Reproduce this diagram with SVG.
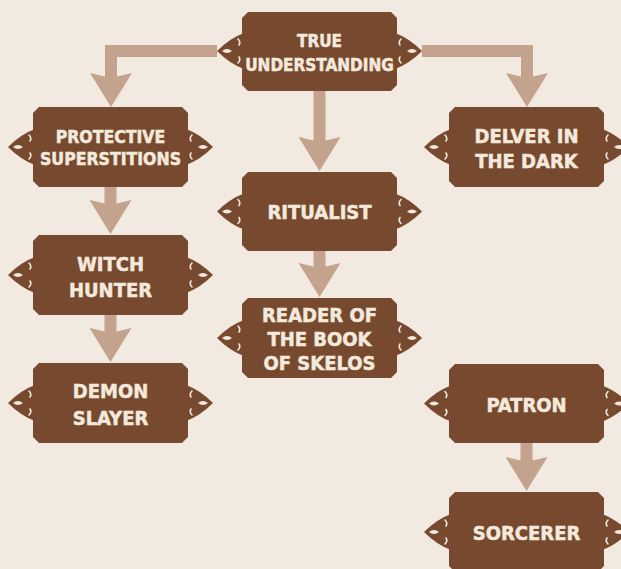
<svg xmlns="http://www.w3.org/2000/svg" xmlns:xlink="http://www.w3.org/1999/xlink" width="621" height="569" viewBox="0 0 621 569">
<defs>
<style>
.box{fill:#774a30}
.t{fill:#f3e9dc;stroke:#f3e9dc;stroke-width:0.5;font-family:"DejaVu Sans Condensed","DejaVu Sans",sans-serif;font-stretch:condensed;font-weight:bold;font-size:20px;text-anchor:middle}
.con{fill:none;stroke:#c3a38e;stroke-width:12;stroke-linejoin:miter}
.hole{fill:#f2eae0}
.slit{fill:none;stroke:#f2eae0;stroke-width:1.6;stroke-linecap:round}
</style>
<marker id="ah" viewBox="0 -21 34 42" refX="5" refY="0" markerWidth="34" markerHeight="42" markerUnits="userSpaceOnUse" orient="auto">
<path d="M0,-21 L34,0 L0,21 L5,0 Z" fill="#c3a38e"/>
</marker>
<g id="knot">
<path d="M2,-18 Q-12,-13 -25,0 Q-12,13 2,18 Z" fill="#774a30"/>
<path class="hole" d="M-20,0 Q-15,-4 -10,0 Q-15,4 -20,0 Z"/>
<path class="slit" d="M-4,-12 Q-1,-9 -3,-6"/>
<path class="slit" d="M-4,12 Q-1,9 -3,6"/>
</g>
</defs>
<rect width="621" height="569" fill="#f2eae0"/>

<g id="connectors">
<path class="con" d="M217,51 H111 V78" marker-end="url(#ah)"/>
<path class="con" d="M422,51 H527 V78" marker-end="url(#ah)"/>
<path class="con" d="M319.5,91 V142" marker-end="url(#ah)"/>
<path class="con" d="M110.5,187 V205" marker-end="url(#ah)"/>
<path class="con" d="M110.5,315 V333" marker-end="url(#ah)"/>
<path class="con" d="M319.5,251 V268" marker-end="url(#ah)"/>
<path class="con" d="M526.5,443 V462" marker-end="url(#ah)"/>
</g>

<g id="true-understanding">
<use xlink:href="#knot" transform="translate(242,51)"/>
<use xlink:href="#knot" transform="translate(397,51) scale(-1,1)"/>
<path class="box" d="M248,12 H391 L397,18 V85 L391,91 H248 L242,85 V18 Z"/>
<text class="t" style="font-size:17px" x="319.5" y="47">TRUE</text>
<text class="t" style="font-size:17px" x="319.5" y="71">UNDERSTANDING</text>
</g>

<g id="protective-superstitions">
<use xlink:href="#knot" transform="translate(33,147)"/>
<use xlink:href="#knot" transform="translate(188,147) scale(-1,1)"/>
<path class="box" d="M39,107 H182 L188,113 V181 L182,187 H39 L33,181 V113 Z"/>
<text class="t" style="font-size:17.5px" x="110.5" y="143">PROTECTIVE</text>
<text class="t" style="font-size:17.5px" x="110.5" y="165">SUPERSTITIONS</text>
</g>

<g id="delver-in-the-dark">
<use xlink:href="#knot" transform="translate(449,147)"/>
<use xlink:href="#knot" transform="translate(604,147) scale(-1,1)"/>
<path class="box" d="M455,107 H598 L604,113 V181 L598,187 H455 L449,181 V113 Z"/>
<text class="t" x="526.5" y="143">DELVER IN</text>
<text class="t" x="526.5" y="168">THE DARK</text>
</g>

<g id="ritualist">
<use xlink:href="#knot" transform="translate(242,211.5)"/>
<use xlink:href="#knot" transform="translate(397,211.5) scale(-1,1)"/>
<path class="box" d="M248,172 H391 L397,178 V245 L391,251 H248 L242,245 V178 Z"/>
<text class="t" x="319.5" y="219">RITUALIST</text>
</g>

<g id="witch-hunter">
<use xlink:href="#knot" transform="translate(33,275)"/>
<use xlink:href="#knot" transform="translate(188,275) scale(-1,1)"/>
<path class="box" d="M39,235 H182 L188,241 V309 L182,315 H39 L33,309 V241 Z"/>
<text class="t" x="110.5" y="271">WITCH</text>
<text class="t" x="110.5" y="297">HUNTER</text>
</g>

<g id="reader-of-the-book-of-skelos">
<use xlink:href="#knot" transform="translate(242,338)"/>
<use xlink:href="#knot" transform="translate(397,338) scale(-1,1)"/>
<path class="box" d="M248,298 H391 L397,304 V372 L391,378 H248 L242,372 V304 Z"/>
<text class="t" x="319.5" y="322">READER OF</text>
<text class="t" x="319.5" y="346">THE BOOK</text>
<text class="t" x="319.5" y="370">OF SKELOS</text>
</g>

<g id="demon-slayer">
<use xlink:href="#knot" transform="translate(33,403)"/>
<use xlink:href="#knot" transform="translate(188,403) scale(-1,1)"/>
<path class="box" d="M39,363 H182 L188,369 V437 L182,443 H39 L33,437 V369 Z"/>
<text class="t" x="110.5" y="398">DEMON</text>
<text class="t" x="110.5" y="425">SLAYER</text>
</g>

<g id="patron">
<use xlink:href="#knot" transform="translate(449,403.5)"/>
<use xlink:href="#knot" transform="translate(604,403.5) scale(-1,1)"/>
<path class="box" d="M455,364 H598 L604,370 V437 L598,443 H455 L449,437 V370 Z"/>
<text class="t" x="526.5" y="412">PATRON</text>
</g>

<g id="sorcerer">
<use xlink:href="#knot" transform="translate(449,532)"/>
<use xlink:href="#knot" transform="translate(604,532) scale(-1,1)"/>
<path class="box" d="M455,492 H598 L604,498 V566 L598,572 H455 L449,566 V498 Z"/>
<text class="t" x="526.5" y="540">SORCERER</text>
</g>
</svg>
